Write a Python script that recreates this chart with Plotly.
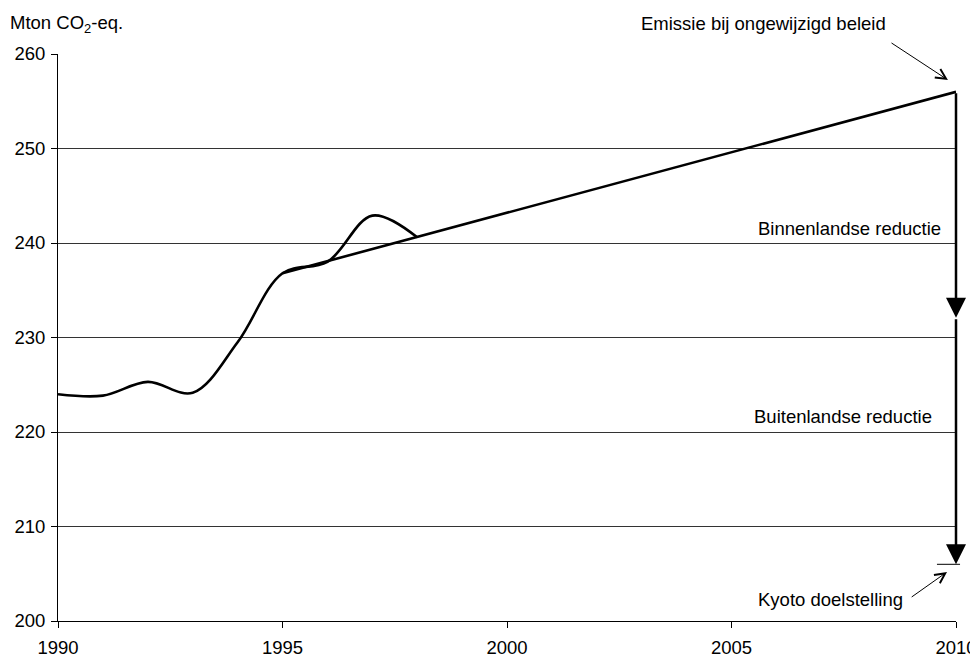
import plotly.graph_objects as go

# Data
years_actual = [1990, 1991, 1992, 1993, 1994, 1995, 1996, 1997, 1998]
emission_actual = [224.0, 223.85, 225.3, 224.15, 229.5, 236.8, 238.0, 242.9, 240.6]

years_trend = [1995, 2010]
emission_trend = [236.8, 256.0]

target_year = 2010
emission_unchanged = 256.0
domestic_reduction_end = 232.1
kyoto_target = 206.0

x_ticks = [1990, 1995, 2000, 2005, 2010]
y_ticks = [200, 210, 220, 230, 240, 250, 260]

FONT = "Liberation Sans, Arial, sans-serif"
FS = 18.5

fig = go.Figure()

fig.add_trace(go.Scatter(
    x=years_actual, y=emission_actual, mode="lines",
    line=dict(color="black", width=2.6, shape="spline", smoothing=1.0),
    showlegend=False, hoverinfo="skip", cliponaxis=False,
))
fig.add_trace(go.Scatter(
    x=years_trend, y=emission_trend, mode="lines",
    line=dict(color="black", width=2.6),
    showlegend=False, hoverinfo="skip", cliponaxis=False,
))

annotations = []
# thick reduction arrows
annotations.append(dict(
    x=target_year, y=domestic_reduction_end, ax=target_year, ay=emission_unchanged,
    xref="x", yref="y", axref="x", ayref="y", text="", showarrow=True,
    arrowhead=2, arrowsize=1.6, arrowwidth=2.5, arrowcolor="black", standoff=0,
))
annotations.append(dict(
    x=target_year, y=kyoto_target, ax=target_year, ay=domestic_reduction_end,
    xref="x", yref="y", axref="x", ayref="y", text="", showarrow=True,
    arrowhead=2, arrowsize=1.6, arrowwidth=2.5, arrowcolor="black", standoff=0,
))
# thin pointer arrows
annotations.append(dict(
    x=2009.82, y=257.25, ax=2008.53, ay=261.27,
    xref="x", yref="y", axref="x", ayref="y", text="", showarrow=True,
    arrowhead=5, arrowsize=2, arrowwidth=1, arrowcolor="black", standoff=0,
))
annotations.append(dict(
    x=2009.80, y=205.19, ax=2008.98, ay=202.43,
    xref="x", yref="y", axref="x", ayref="y", text="", showarrow=True,
    arrowhead=5, arrowsize=2, arrowwidth=1, arrowcolor="black", standoff=0,
))
# texts
text_font = dict(family=FONT, size=FS, color="black")
annotations += [
    dict(text="Mton CO<sub>2</sub>-eq.", x=-0.0557, y=1.053, xref="paper", yref="paper",
         xanchor="left", yanchor="middle", showarrow=False, font=text_font),
    dict(text="Emissie bij ongewijzigd beleid", x=0.786, y=1.053, xref="paper", yref="paper",
         xanchor="center", yanchor="middle", showarrow=False, font=text_font),
    dict(text="Binnenlandse reductie", x=0.9855, y=241.5, xref="paper", yref="y",
         xanchor="right", yanchor="middle", showarrow=False, font=text_font),
    dict(text="Buitenlandse reductie", x=0.9755, y=221.6, xref="paper", yref="y",
         xanchor="right", yanchor="middle", showarrow=False, font=text_font),
    dict(text="Kyoto doelstelling", x=0.9432, y=202.3, xref="paper", yref="y",
         xanchor="right", yanchor="middle", showarrow=False, font=text_font),
]

# The page body adds an 8px offset, so margins are shifted accordingly.
fig.update_layout(
    width=978, height=655,
    margin=dict(l=50, r=30, t=46, b=42, autoexpand=False),
    paper_bgcolor="white", plot_bgcolor="white",
    font=dict(family=FONT, size=FS, color="black"),
    annotations=annotations,
    shapes=[dict(type="line", xref="paper", yref="y", x0=0.9788, x1=1.0045,
                 y0=kyoto_target, y1=kyoto_target, line=dict(color="black", width=1))],
)
fig.update_xaxes(
    range=[1990, 2010], tickvals=x_ticks, ticktext=[str(v) for v in x_ticks],
    showgrid=False, zeroline=False, showline=True, linecolor="black", linewidth=1,
    ticks="outside", ticklen=6, tickcolor="black", tickwidth=1,
    tickfont=dict(family=FONT, size=FS, color="black"),
    automargin=False, ticklabelstandoff=4,
)
fig.update_yaxes(
    range=[200, 260], tickvals=y_ticks,
    showgrid=True, gridcolor="#333333", gridwidth=1, zeroline=False,
    showline=True, linecolor="black", linewidth=1,
    ticks="outside", ticklen=6, tickcolor="black", tickwidth=1,
    tickfont=dict(family=FONT, size=FS, color="black"),
    automargin=False, ticklabelstandoff=2,
)

fig.write_html("out.html")
